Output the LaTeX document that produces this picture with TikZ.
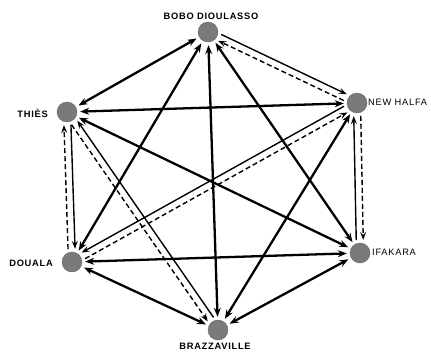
\documentclass[tikz,border=0pt]{standalone}
\usepackage{fontspec}
\setmainfont{Liberation Sans}
\newfontfamily\lblfont[LetterSpace=8]{Liberation Sans}
\usetikzlibrary{arrows.meta,calc}
\begin{document}
\begin{tikzpicture}[x=1pt,y=-1pt,
  city/.style={circle,fill=black!52,draw=black!60,line width=0.4pt,inner sep=0pt,minimum size=20pt},
  lblb/.style={font=\lblfont\fontsize{9.3}{10}\selectfont\bfseries,inner sep=0pt},
  lblr/.style={font=\lblfont\fontsize{9.3}{10}\selectfont,inner sep=0pt},
  single/.style={line width=2.3pt,{Stealth[length=9pt,width=7pt,inset=3pt]}-{Stealth[length=9pt,width=7pt,inset=3pt]},shorten >=3pt,shorten <=3pt},
  psolid/.style={line width=1.4pt,-{Stealth[length=8pt,width=6pt,inset=3pt]},shorten >=13pt,shorten <=13pt},
  pdash/.style={line width=1.4pt,dash pattern=on 5pt off 3pt,-{Stealth[length=8pt,width=6pt,inset=3pt]},shorten >=13pt,shorten <=13pt}
]
\useasboundingbox (0,0) rectangle (431,351);
\fill[white] (0,0) rectangle (431,351);

\node[city] (B) at (208,32) {};
\node[city] (N) at (357,103) {};
\node[city] (T) at (67,112) {};
\node[city] (D) at (72,262) {};
\node[city] (I) at (360,253) {};
\node[city] (Z) at (218,330) {};

% single double-headed connectors
\draw[single] (B) -- (T);
\draw[single] (B) -- (D);
\draw[single] (B) -- (Z);
\draw[single] (B) -- (I);
\draw[single] (T) -- (N);
\draw[single] (T) -- (I);
\draw[single] (D) -- (I);
\draw[single] (D) -- (Z);
\draw[single] (N) -- (Z);
\draw[single] (I) -- (Z);

% paired connectors: solid one way, dashed the other
\def\off{3.5pt}
\draw[psolid] ($(B.center)!\off!90:(N.center)$) -- ($(N.center)!\off!-90:(B.center)$);
\draw[pdash]  ($(N.center)!\off!90:(B.center)$) -- ($(B.center)!\off!-90:(N.center)$);
\draw[psolid] ($(T.center)!\off!90:(D.center)$) -- ($(D.center)!\off!-90:(T.center)$);
\draw[pdash]  ($(D.center)!\off!90:(T.center)$) -- ($(T.center)!\off!-90:(D.center)$);
\draw[psolid] ($(I.center)!\off!90:(N.center)$) -- ($(N.center)!\off!-90:(I.center)$);
\draw[pdash]  ($(N.center)!\off!90:(I.center)$) -- ($(I.center)!\off!-90:(N.center)$);
\draw[psolid] ($(Z.center)!\off!-90:(T.center)$) -- ($(T.center)!\off!90:(Z.center)$);
\draw[pdash]  ($(T.center)!\off!-90:(Z.center)$) -- ($(Z.center)!\off!90:(T.center)$);
\draw[psolid] ($(N.center)!\off!-90:(D.center)$) -- ($(D.center)!\off!90:(N.center)$);
\draw[pdash]  ($(D.center)!\off!-90:(N.center)$) -- ($(N.center)!\off!90:(D.center)$);

% labels
\node[lblb] (lB) at (211,16) {BOBO DIOULASSO};
\node[lblr,anchor=west] (lN) at (368,102) {NEW HALFA};
\node[lblb,anchor=east] (lT) at (48,113) {THIÈS};
\node[lblb,anchor=east] (lD) at (53,263) {DOUALA};
\node[lblr,anchor=west] (lI) at (372,252) {IFAKARA};
\node[lblb] (lZ) at (215,346) {BRAZZAVILLE};
\end{tikzpicture}
\end{document}
